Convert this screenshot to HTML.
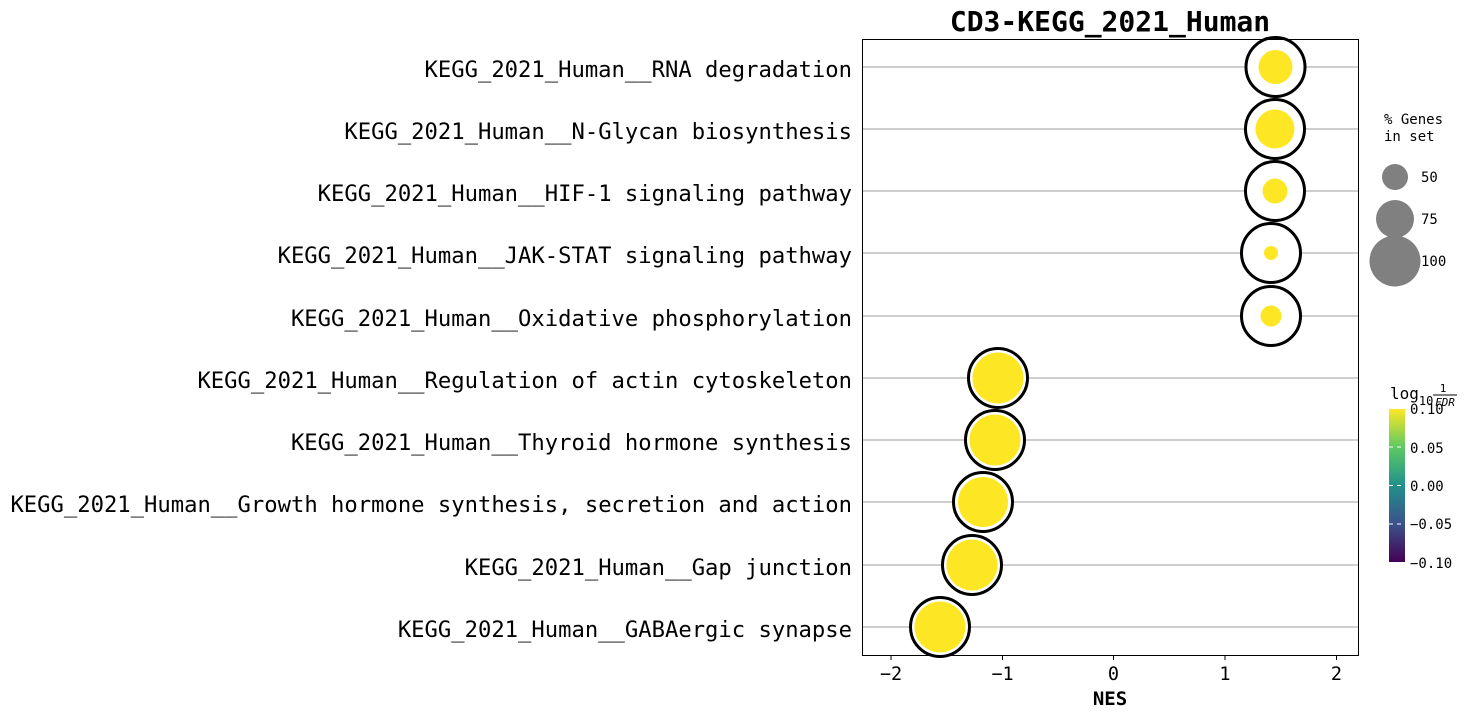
<!DOCTYPE html>
<html><head><style>body{margin:0;background:#fff}svg text{font-family:"DejaVu Sans Mono","Liberation Mono",monospace}</style></head><body>
<svg width="1468" height="718" xmlns="http://www.w3.org/2000/svg">
<defs><linearGradient id="v" x1="0" y1="1" x2="0" y2="0">
<stop offset="0" stop-color="#440154"/><stop offset="0.25" stop-color="#3b528b"/><stop offset="0.5" stop-color="#21918c"/><stop offset="0.75" stop-color="#5ec962"/><stop offset="1" stop-color="#fde725"/></linearGradient></defs>
<text x="1110" y="31" font-size="28" font-weight="bold" text-anchor="middle">CD3-KEGG_2021_Human</text>
<g stroke="#b0b0b0" stroke-width="1.2">
<line x1="862" x2="1358" y1="67" y2="67"/><line x1="862" x2="1358" y1="129" y2="129"/><line x1="862" x2="1358" y1="191" y2="191"/><line x1="862" x2="1358" y1="253" y2="253"/><line x1="862" x2="1358" y1="316" y2="316"/><line x1="862" x2="1358" y1="378" y2="378"/><line x1="862" x2="1358" y1="440" y2="440"/><line x1="862" x2="1358" y1="502" y2="502"/><line x1="862" x2="1358" y1="565" y2="565"/><line x1="862" x2="1358" y1="627" y2="627"/></g>
<g fill="#fff" stroke="#000" stroke-width="3">
<circle cx="1275.5" cy="67" r="29.5"/><circle cx="1275" cy="129" r="29.5"/><circle cx="1275" cy="191" r="29.5"/><circle cx="1271" cy="253" r="29.5"/><circle cx="1271" cy="316" r="29.5"/><circle cx="998" cy="378" r="29.5"/><circle cx="995" cy="440" r="29.5"/><circle cx="983" cy="502" r="29.5"/><circle cx="972" cy="565" r="29.5"/><circle cx="940" cy="627" r="29.5"/></g>
<g fill="#fde725">
<circle cx="1275.5" cy="67" r="17"/><circle cx="1275" cy="129" r="19.5"/><circle cx="1275" cy="191" r="12.5"/><circle cx="1271" cy="253" r="7"/><circle cx="1271" cy="316" r="10.5"/><circle cx="998" cy="378" r="25.5"/><circle cx="995" cy="440" r="25.5"/><circle cx="983" cy="502" r="25"/><circle cx="972" cy="565" r="25.5"/><circle cx="940" cy="627" r="25.5"/></g>
<rect x="862.5" y="39.5" width="496" height="616" fill="none" stroke="#000" stroke-width="1"/>
<g font-size="22.2" text-anchor="end">
<text x="852" y="77">KEGG_2021_Human__RNA degradation</text>
<text x="852" y="139">KEGG_2021_Human__N-Glycan biosynthesis</text>
<text x="852" y="201">KEGG_2021_Human__HIF-1 signaling pathway</text>
<text x="852" y="263">KEGG_2021_Human__JAK-STAT signaling pathway</text>
<text x="852" y="326">KEGG_2021_Human__Oxidative phosphorylation</text>
<text x="852" y="388">KEGG_2021_Human__Regulation of actin cytoskeleton</text>
<text x="852" y="450">KEGG_2021_Human__Thyroid hormone synthesis</text>
<text x="852" y="512">KEGG_2021_Human__Growth hormone synthesis, secretion and action</text>
<text x="852" y="575">KEGG_2021_Human__Gap junction</text>
<text x="852" y="637">KEGG_2021_Human__GABAergic synapse</text></g>
<g stroke="#000"><line x1="891" x2="891" y1="655" y2="660"/><line x1="1002.5" x2="1002.5" y1="655" y2="660"/><line x1="1113.5" x2="1113.5" y1="655" y2="660"/><line x1="1225" x2="1225" y1="655" y2="660"/><line x1="1336.5" x2="1336.5" y1="655" y2="660"/></g>
<g font-size="18.5" text-anchor="middle"><text x="891" y="680">−2</text><text x="1002.5" y="680">−1</text><text x="1113.5" y="680">0</text><text x="1225" y="680">1</text><text x="1336.5" y="680">2</text></g>
<text x="1110" y="705" font-size="19" font-weight="bold" text-anchor="middle">NES</text>
<text x="1384" y="124" font-size="14">% Genes</text><text x="1384" y="141" font-size="14">in set</text>
<g fill="#808080"><circle cx="1395" cy="177" r="13"/><circle cx="1395" cy="219" r="19"/><circle cx="1395" cy="261" r="25.5"/></g>
<g font-size="14"><text x="1421" y="182">50</text><text x="1421" y="224">75</text><text x="1421" y="266">100</text></g>
<text x="1390" y="399" font-size="16">log<tspan font-size="12" dy="6">10</tspan></text>
<text x="1443" y="392" font-size="11" text-anchor="middle">1</text><line x1="1433" x2="1457" y1="395" y2="395" stroke="#000"/><text x="1445" y="406" font-size="11" font-style="italic" text-anchor="middle">FDR</text>
<rect x="1389" y="409" width="16" height="153" fill="url(#v)"/>
<g stroke="#fff" stroke-width="1" stroke-dasharray="4,4"><line x1="1389" x2="1405" y1="447" y2="447"/><line x1="1389" x2="1405" y1="485.5" y2="485.5"/><line x1="1389" x2="1405" y1="524" y2="524"/></g>
<g font-size="14"><text x="1410" y="414">0.10</text><text x="1410" y="453">0.05</text><text x="1410" y="491">0.00</text><text x="1410" y="529">−0.05</text><text x="1410" y="568">−0.10</text></g>
</svg></body></html>
